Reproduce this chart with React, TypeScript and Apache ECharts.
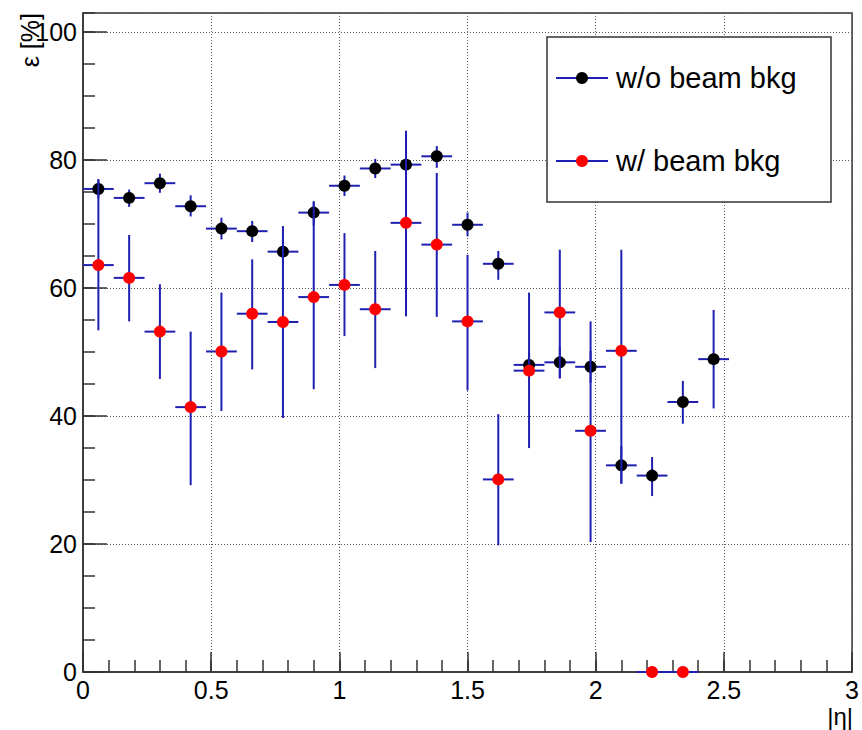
import React, { useEffect, useRef } from "react";
import * as echarts from "echarts";

// |eta| bin centres
const etaCenters = [0.06, 0.18, 0.30, 0.42, 0.54, 0.66, 0.78, 0.90, 1.02, 1.14, 1.26, 1.38, 1.50, 1.62, 1.74, 1.86, 1.98, 2.10, 2.22, 2.34, 2.46];
const BIN_HALF = 0.06;

// w/o beam bkg efficiency [%] with asymmetric errors (low / high bound)
const effNoBkg = [75.5, 74.1, 76.4, 72.8, 69.3, 68.9, 65.7, 71.8, 76.0, 78.7, 79.3, 80.6, 69.9, 63.8, 48.0, 48.4, 47.7, 32.3, 30.7, 42.2, 48.9];
const effNoBkgLo = [74.0, 72.7, 74.9, 71.2, 67.6, 67.2, 63.7, 69.8, 74.4, 77.2, 77.7, 78.8, 68.1, 61.3, 46.0, 45.9, 45.2, 29.4, 27.5, 38.8, 41.2];
const effNoBkgHi = [77.0, 75.4, 77.9, 74.5, 71.0, 70.5, 67.7, 73.6, 77.6, 80.2, 80.8, 82.2, 71.8, 65.8, 50.0, 50.8, 50.2, 35.3, 33.6, 45.5, 56.6];

// w/ beam bkg efficiency [%]
const effBkg = [63.6, 61.6, 53.2, 41.4, 50.1, 56.0, 54.7, 58.6, 60.5, 56.7, 70.2, 66.8, 54.8, 30.1, 47.1, 56.2, 37.7, 50.2, 0, 0];
const effBkgLo = [53.4, 54.8, 45.8, 29.2, 40.8, 47.3, 39.7, 44.2, 52.5, 47.5, 55.6, 55.5, 44.0, 19.8, 35.0, 45.9, 20.3, 29.5, 0, 0];
const effBkgHi = [77.0, 68.3, 60.6, 53.2, 59.3, 64.5, 69.7, 73.4, 68.6, 65.8, 84.6, 78.0, 65.2, 40.3, 59.3, 66.0, 54.8, 66.0, 0, 0];

const xTickLabels = ["0", "0.5", "1", "1.5", "2", "2.5", "3"];
const yTickLabels = ["0", "20", "40", "60", "80", "100"];

const NAME_NO = "w/o beam bkg";
const NAME_BKG = "w/ beam bkg";
const BAR_COLOR = "#2020b0";
const FONT = "'Liberation Sans', Arial, Helvetica, sans-serif";

function errData(vals: number[], lo: number[], hi: number[]) {
  return vals.map((v, i) => [etaCenters[i], v, lo[i], hi[i]]);
}

function errSeries(name: string, data: number[][], z: number) {
  return {
    type: "custom",
    name,
    z,
    silent: true,
    encode: { x: 0, y: 1 },
    data,
    renderItem: (_params: any, api: any) => {
      const x = api.value(0);
      const y = api.value(1);
      const lo = api.value(2);
      const hi = api.value(3);
      const pLo = api.coord([x, lo]);
      const pHi = api.coord([x, hi]);
      const pL = api.coord([x - BIN_HALF, y]);
      const pR = api.coord([x + BIN_HALF, y]);
      return {
        type: "group",
        children: [
          { type: "line", shape: { x1: pLo[0], y1: pLo[1], x2: pHi[0], y2: pHi[1] }, style: { stroke: BAR_COLOR, lineWidth: 2 } },
          { type: "line", shape: { x1: pL[0], y1: pL[1], x2: pR[0], y2: pR[1] }, style: { stroke: BAR_COLOR, lineWidth: 2 } },
        ],
      };
    },
  };
}

export default function App() {
  const ref = useRef<HTMLDivElement>(null);
  useEffect(() => {
    if (!ref.current) return;
    const chart = echarts.init(ref.current, undefined, { renderer: "svg" });
    const axisLine = { show: true, lineStyle: { color: "#333", width: 1.5 } };
    const gridLine = { show: true, lineStyle: { color: "#555", width: 1, type: [1, 2] } };
    const option: any = {
      animation: false,
      backgroundColor: "#fff",
      grid: { left: 83, right: 9, top: 13, bottom: 58, show: true, borderColor: "#333", borderWidth: 1.5, backgroundColor: "transparent" },
      xAxis: [
        {
          type: "value", position: "bottom", min: 0, max: 3, interval: 0.5,
          axisLine,
          axisTick: { show: true, inside: true, length: 20, lineStyle: { color: "#333", width: 1.5 } },
          axisLabel: {
            fontSize: 25, color: "#000", fontFamily: FONT, margin: 5,
            formatter: (v: number) => xTickLabels[Math.round(v / 0.5)] ?? "",
          },
          splitLine: gridLine,
        },
        {
          type: "value", position: "bottom", min: 0, max: 3, interval: 0.1,
          axisLine: { show: false },
          axisTick: { show: true, inside: true, length: 12, lineStyle: { color: "#333", width: 1.5 } },
          axisLabel: { show: false },
          splitLine: { show: false },
        },
      ],
      yAxis: [
        {
          type: "value", position: "left", min: 0, max: 103, interval: 20,
          axisLine,
          axisTick: { show: true, inside: true, length: 24, lineStyle: { color: "#333", width: 1.5 } },
          axisLabel: {
            fontSize: 25, color: "#000", fontFamily: FONT, margin: 6, showMaxLabel: false,
            formatter: (v: number) => (Math.abs(v % 20) < 1e-6 ? yTickLabels[Math.round(v / 20)] ?? "" : ""),
          },
          splitLine: gridLine,
        },
        {
          type: "value", position: "left", min: 0, max: 103, interval: 5,
          axisLine: { show: false },
          axisTick: { show: true, inside: true, length: 12, lineStyle: { color: "#333", width: 1.5 } },
          axisLabel: { show: false },
          splitLine: { show: false },
        },
      ],
      legend: {
        show: true,
        orient: "vertical",
        left: 576,
        top: 63.5,
        padding: 0,
        itemWidth: 58,
        itemHeight: 12,
        itemGap: 54,
        icon: "circle",
        selectedMode: false,
        z: 10,
        backgroundColor: "transparent",
        itemStyle: { opacity: 1 },
        textStyle: { fontSize: 29, lineHeight: 29, color: "#000", fontFamily: FONT },
        data: [NAME_NO, NAME_BKG],
      },
      graphic: [
        { type: "rect", z: 5, shape: { x: 547, y: 37, width: 284, height: 165 }, style: { fill: "#fff", stroke: "#333", lineWidth: 1.5 } },
        { type: "line", z: 6, shape: { x1: 556, y1: 78, x2: 608, y2: 78 }, style: { stroke: BAR_COLOR, lineWidth: 2 } },
        { type: "line", z: 6, shape: { x1: 556, y1: 161, x2: 608, y2: 161 }, style: { stroke: BAR_COLOR, lineWidth: 2 } },
        { type: "text", x: 30, y: 13, rotation: Math.PI / 2, style: { text: "ε [%]", fontSize: 25, fontFamily: FONT, fill: "#000", align: "right", verticalAlign: "middle" } },
        { type: "text", x: 853, y: 716, style: { text: "|η|", fontSize: 24, fontFamily: FONT, fill: "#000", align: "right", verticalAlign: "middle" } },
      ],
      series: [
        errSeries("err-nobkg", errData(effNoBkg, effNoBkgLo, effNoBkgHi), 2),
        {
          type: "scatter", name: NAME_NO, z: 3, clip: false, symbol: "circle", symbolSize: 12,
          itemStyle: { color: "#000", opacity: 1 },
          data: effNoBkg.map((v, i) => [etaCenters[i], v]),
        },
        errSeries("err-bkg", errData(effBkg, effBkgLo, effBkgHi), 4),
        {
          type: "scatter", name: NAME_BKG, z: 5, clip: false, symbol: "circle", symbolSize: 12,
          itemStyle: { color: "#ff0000", opacity: 1 },
          data: effBkg.map((v, i) => [etaCenters[i], v]),
        },
      ],
    };
    chart.setOption(option);
    return () => chart.dispose();
  }, []);
  return <div ref={ref} style={{ position: "fixed", left: 0, top: 0, width: 862, height: 730 }} />;
}
